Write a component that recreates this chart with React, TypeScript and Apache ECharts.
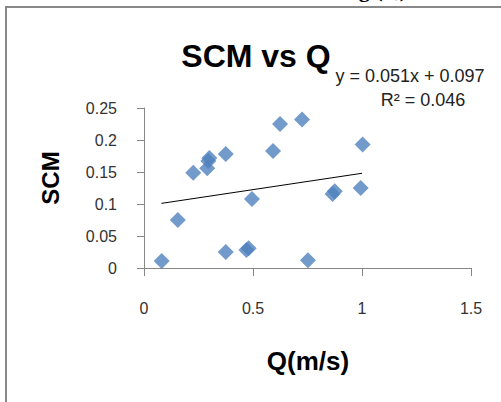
import React, { useEffect, useRef } from "react";
import * as echarts from "echarts";

const qValues = [0.081, 0.155, 0.226, 0.29, 0.295, 0.3, 0.375, 0.375, 0.47, 0.48, 0.495, 0.592, 0.624, 0.725, 0.752, 0.865, 0.875, 0.994, 1.003];
const scmValues = [0.011, 0.075, 0.149, 0.156, 0.167, 0.172, 0.178, 0.025, 0.028, 0.031, 0.108, 0.183, 0.225, 0.232, 0.012, 0.1155, 0.12, 0.125, 0.193];
const trendQ = [0.08, 1.0];
const trendSCM = [0.101, 0.148];
const xTicks = { min: 0, max: 1.5, interval: 0.5 };
const yTicks = { min: 0, max: 0.25, interval: 0.05 };
const titleText = "SCM vs Q";
const equationText = "y = 0.051x + 0.097";
const r2Text = "R\u00b2 = 0.046";
const xName = "Q(m/s)";
const yName = "SCM";
const topCropText = "g (Q)";

export default function App() {
  const ref = useRef<HTMLDivElement>(null);
  useEffect(() => {
    if (!ref.current) return;
    const chart = echarts.init(ref.current, undefined, { renderer: "svg" });
    const font = "'Liberation Sans', Arial, sans-serif";
    const axisColor = "#868686";
    chart.setOption({
      animation: false,
      backgroundColor: "#ffffff",
      grid: { left: 144, right: 30, top: 108, bottom: 134 },
      xAxis: {
        type: "value",
        min: xTicks.min,
        max: xTicks.max,
        interval: xTicks.interval,
        splitLine: { show: false },
        axisLine: { show: true, lineStyle: { color: axisColor, width: 1 } },
        axisTick: { show: true, length: 8, lineStyle: { color: axisColor } },
        axisLabel: { margin: 32, fontSize: 16, color: "#333", fontFamily: font },
      },
      yAxis: {
        type: "value",
        min: yTicks.min,
        max: yTicks.max,
        interval: yTicks.interval,
        splitLine: { show: false },
        axisLine: { show: true, lineStyle: { color: axisColor, width: 1 } },
        axisTick: { show: true, length: 7, lineStyle: { color: axisColor } },
        axisLabel: { margin: 27, fontSize: 16, color: "#333", fontFamily: font },
      },
      series: [
        {
          type: "line",
          data: trendQ.map((q, i) => [q, trendSCM[i]]),
          symbol: "none",
          lineStyle: { color: "#000", width: 1 },
          silent: true,
          z: 1,
        },
        {
          type: "scatter",
          data: qValues.map((q, i) => [q, scmValues[i]]),
          symbol: "diamond",
          symbolSize: 16,
          itemStyle: { color: "#4F81BD" },
          z: 3,
        },
      ],
      graphic: [
        {
          type: "rect",
          shape: { x: 6, y: 7, width: 700, height: 600 },
          style: { fill: "none", stroke: "#888888", lineWidth: 2 },
          z: 0,
        },
        {
          type: "text",
          x: 407,
          y: -11,
          style: {
            text: topCropText,
            font: "bold 22px 'Liberation Serif', 'Times New Roman', serif",
            fill: "#000",
            align: "right",
            verticalAlign: "middle",
          },
        },
        {
          type: "text",
          x: 256,
          y: 56,
          style: {
            text: titleText,
            font: `bold 32px ${font}`,
            fill: "#000",
            align: "center",
            verticalAlign: "middle",
          },
        },
        {
          type: "text",
          x: 410,
          y: 76,
          style: {
            text: equationText,
            font: `18px ${font}`,
            fill: "#222",
            align: "center",
            verticalAlign: "middle",
          },
        },
        {
          type: "text",
          x: 423,
          y: 100,
          style: {
            text: r2Text,
            font: `18px ${font}`,
            fill: "#222",
            align: "center",
            verticalAlign: "middle",
          },
        },
        {
          type: "text",
          x: 50,
          y: 178,
          rotation: Math.PI / 2,
          style: {
            text: yName,
            font: `bold 24px ${font}`,
            fill: "#000",
            align: "center",
            verticalAlign: "middle",
          },
        },
        {
          type: "text",
          x: 308,
          y: 361,
          style: {
            text: xName,
            font: `bold 26px ${font}`,
            fill: "#000",
            align: "center",
            verticalAlign: "middle",
          },
        },
      ],
    });
    return () => chart.dispose();
  }, []);
  return (
    <div
      ref={ref}
      style={{ position: "fixed", left: 0, top: 0, width: 501, height: 402, background: "#fff" }}
    />
  );
}
